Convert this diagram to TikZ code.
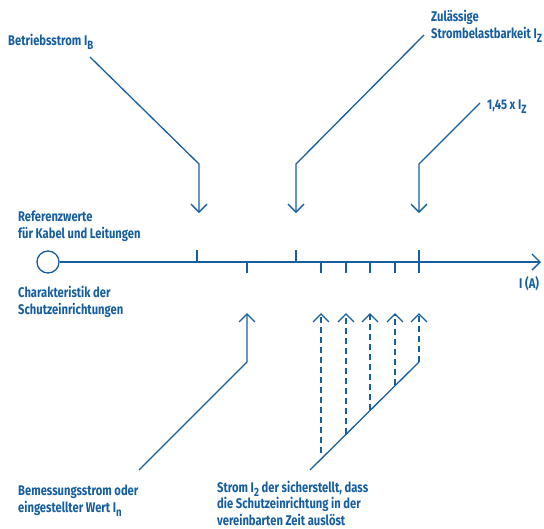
\documentclass[tikz,border=0pt]{standalone}
\usepackage{fontspec}
\setmainfont{Fira Sans}[FakeStretch=0.8]
\usetikzlibrary{arrows.meta}
\definecolor{stromblau}{RGB}{22,94,158}
\newcommand{\Isub}[1]{I\raisebox{-4pt}{\fontsize{12}{12}\selectfont #1}}

\begin{document}
\begin{tikzpicture}[x=1pt,y=-1pt,
    ln/.style={line width=1.3pt, color=stromblau},
    pfeil/.style={ln, -{Straight Barb[length=8pt,width=16pt,line width=1.3pt]}},
    gestrichelt/.style={pfeil, dash pattern=on 6pt off 4pt},
    lbl/.style={anchor=base west, inner sep=0pt, text=stromblau, align=left,
      font=\fontsize{14}{16.5}\selectfont\bfseries}]
    \useasboundingbox (0,0) rectangle (544,528);

    \node[lbl] (ib) at (8,45) {Betriebsstrom \Isub{B}};
    \node[lbl] (iz) at (431,38) {Zulässige\\Strombelastbarkeit \Isub{Z}};
    \node[lbl] (izf) at (487,109) {1,45 x \Isub{Z}};
    \node[lbl] (ref) at (18,238) {Referenzwerte\\für Kabel und Leitungen};
    \node[lbl] (ia) at (519,288) {I (A)};
    \node[lbl] (char) at (18,314) {Charakteristik der\\Schutzeinrichtungen};
    \node[lbl] (in) at (18,512) {Bemessungsstrom oder\\eingestellter Wert \Isub{n}};
    \node[lbl] (itwo) at (217,525) {Strom \Isub{2} der sicherstellt, dass\\die Schutzeinrichtung in der\\vereinbarten Zeit auslöst};

    \node[ln, draw, circle, minimum size=22pt, inner sep=0pt] (null) at (48,262) {};
    \coordinate (ende) at (541,262);
    \draw[ln, -{Straight Barb[length=8pt,width=16pt,line width=1.3pt]}] (null.east) -- (ende);

    \draw[ln] (197,250) -- (197,262) (296,250) -- (296,262) (419,250) -- (419,262);
    \draw[ln] (247,262) -- (247,273) (321,262) -- (321,273) (346,262) -- (346,273)
      (370,262) -- (370,273) (395,262) -- (395,273) (419,262) -- (419,273);

    \coordinate (ibstart) at (90,57);
    \coordinate (ibknick) at (199,164);
    \coordinate (ibspitze) at (199,213);
    \draw[pfeil] (ibstart) -- (ibknick) -- (ibspitze);

    \coordinate (izstart) at (424,35);
    \coordinate (izknick) at (296,164);
    \coordinate (izspitze) at (296,213);
    \draw[pfeil] (izstart) -- (izknick) -- (izspitze);

    \coordinate (izfstart) at (480,103);
    \coordinate (izfknick) at (419,164);
    \coordinate (izfspitze) at (419,213);
    \draw[pfeil] (izfstart) -- (izfknick) -- (izfspitze);

    \coordinate (instart) at (139,470);
    \coordinate (inknick) at (247,362);
    \coordinate (inspitze) at (247,313);
    \draw[pfeil] (instart) -- (inknick) -- (inspitze);

    \coordinate (itwostart) at (310,470);
    \coordinate (itwoknick) at (419,362);
    \draw[ln] (itwostart) -- (itwoknick);
    \draw[gestrichelt] (321,453) -- (321,313);
    \draw[gestrichelt] (346,434) -- (346,313);
    \draw[gestrichelt] (370,410) -- (370,313);
    \draw[gestrichelt] (395,385) -- (395,313);
    \draw[gestrichelt] (itwoknick) -- (419,313);
  \end{tikzpicture}
\end{document}
